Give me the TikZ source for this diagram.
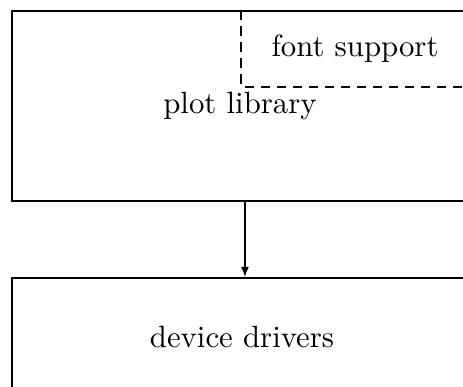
\documentclass[tikz,border=0pt]{standalone}
\usetikzlibrary{arrows.meta}
\begin{document}
\begin{tikzpicture}[x=0.325pt,y=-0.325pt,
  box/.style={draw, line width=0.65pt, rectangle, inner sep=0pt},
  region/.style={rectangle, inner sep=0pt},
  dashline/.style={line width=0.6pt, dash pattern=on 3pt off 2.2pt},
  flow/.style={line width=0.5pt, -{Latex[length=3.3pt,width=2.6pt]}}]
\clip (0,0) rectangle (463,387);
% upper layer with its font-support corner
\node[box, minimum width=148.2pt, minimum height=61.75pt] (plot) at (240,106) {plot library};
\node[region, minimum width=73.45pt, minimum height=24.4pt] (font) at (355,48.5) {font support};
\draw[dashline] (font.north west) |- (font.south east);
% lower layer
\node[box, minimum width=149.5pt, minimum height=38.35pt] (dev) at (242,337) {device drivers};
% call from the library into the drivers
\draw[flow] ([xshift=1.6pt]plot.south) -- ([xshift=1.6pt]plot.south |- dev.north);
\end{tikzpicture}
\end{document}
